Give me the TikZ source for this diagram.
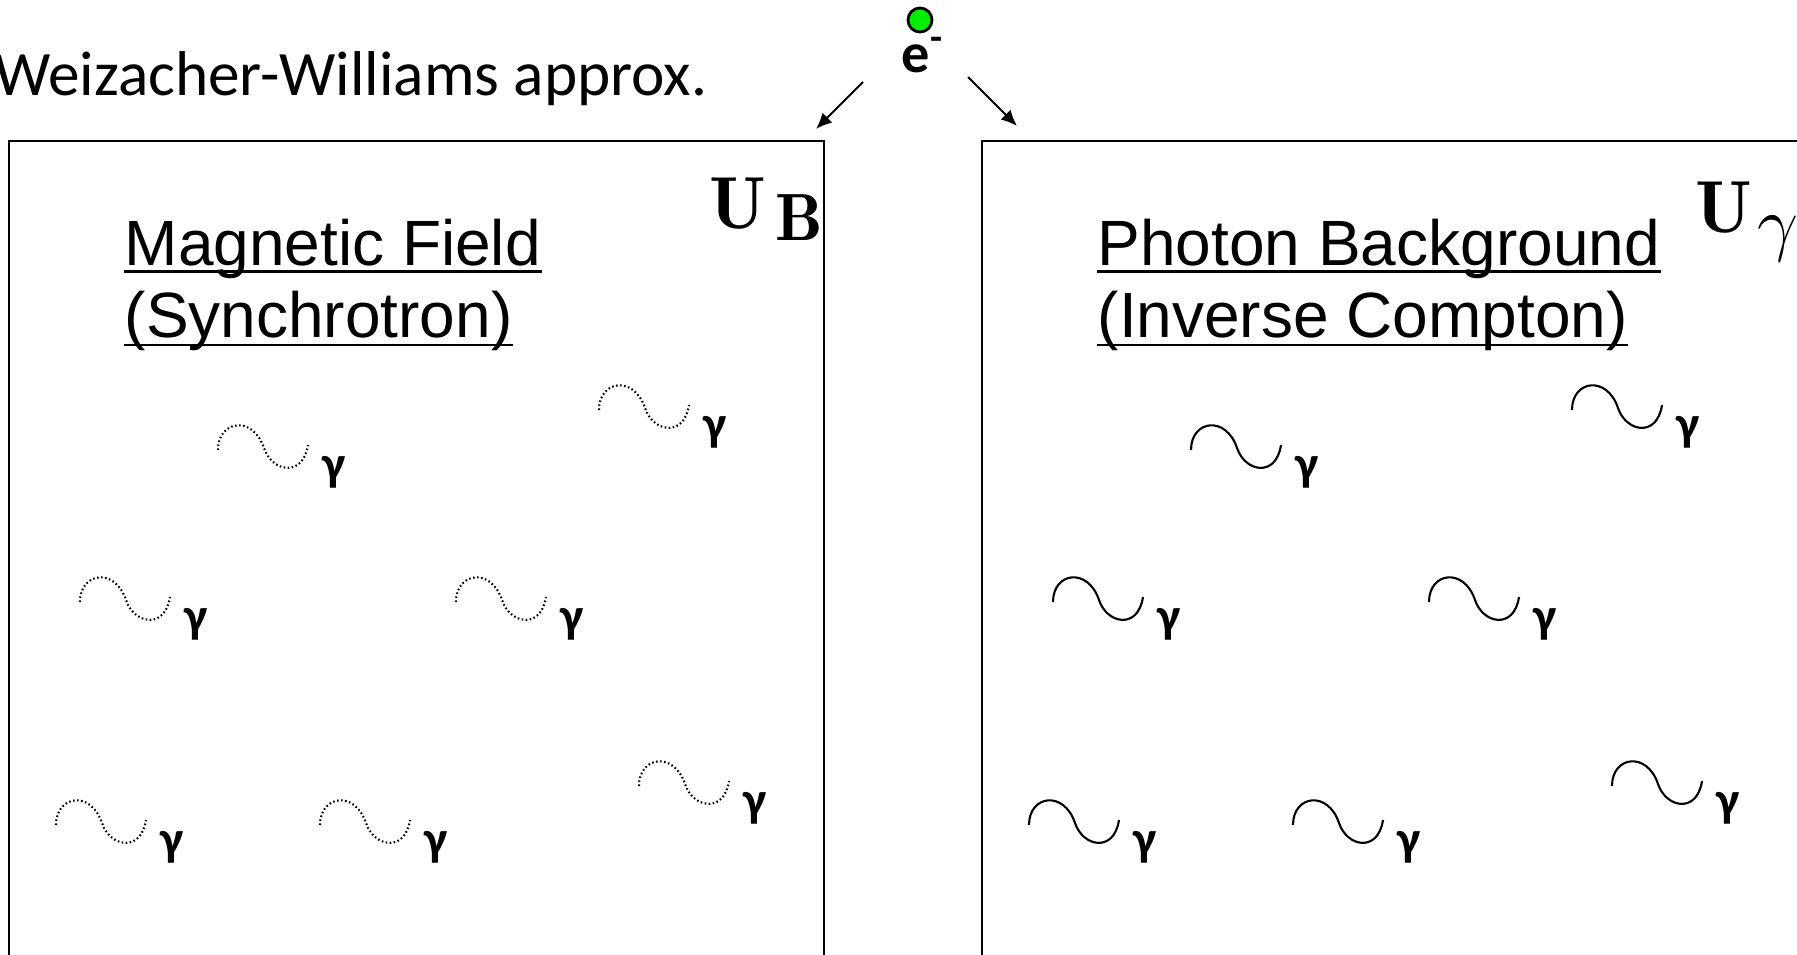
\documentclass[tikz,border=0pt]{standalone}
\usepackage{fontspec}
\newfontfamily\calfont{Carlito}
\newfontfamily\arialfont{Liberation Sans}
\usetikzlibrary{arrows.meta}

\definecolor{egreen}{RGB}{0,240,0}

\tikzset{
    box/.style={line width=0.5pt},
    title/.style={font=\arialfont\fontsize{18.2}{18.2}\selectfont, inner sep=0pt, anchor=base west},
    uline/.style={line width=0.7pt},
    gam/.style={font=\calfont\bfseries\fontsize{14}{14}\selectfont, inner sep=0pt},
    wig/.style={line width=0.6pt},
    wigdot/.style={line width=0.6pt, dash pattern=on 0.45pt off 0.7pt},
    arr/.style={-{Latex[length=1.6mm,width=1.4mm]}, line width=0.55pt},
    pics/photon/.style={code={
        \draw[#1] (0,0) .. controls (0,-30) and (35,-35) .. (46,-2)
                        .. controls (54,22) and (85,28) .. (90,-5);
        \node[gam] (-g) at (116,22) {γ};
    }}
}

\begin{document}
\begin{tikzpicture}[x=0.01cm, y=-0.01cm]
    % Page frame
    \useasboundingbox (0,0) rectangle (1797,955);
    \clip (0,0) rectangle (1797,955);

    % Define the corners of the two boxes
    \coordinate (L1) at (9,970);
    \coordinate (L2) at (9,141);
    \coordinate (L3) at (824,141);
    \coordinate (L4) at (824,970);
    \coordinate (R1) at (982,970);
    \coordinate (R2) at (982,141);
    \coordinate (R3) at (1820,141);

    % Draw the boxes (open at the bottom of the page)
    \draw[box] (L1) -- (L2) -- (L3) -- (L4);
    \draw[box] (R1) -- (R2) -- (R3);

    % The electron and its arrows
    \node (elec) at (920,20) [circle, draw, fill=egreen, line width=0.8pt, minimum size=2.4mm, inner sep=0pt] {};
    \node (elab) at (923,55) [font=\calfont\bfseries\fontsize{16}{16}\selectfont, inner sep=0pt] {e\textsuperscript{-}};
    \coordinate (aL) at (863,82);
    \coordinate (aLt) at (816,129);
    \coordinate (aR) at (968,77);
    \coordinate (aRt) at (1017,126);
    \draw[arr] (aL) -- (aLt);
    \draw[arr] (aR) -- (aRt);

    % Heading
    \node (wwa) at (708,96) [anchor=base east, inner sep=0pt, font=\calfont\fontsize{18}{18}\selectfont] {Weizacher-Williams approx.};

    % Box titles
    \node (magf) at (124,266) [title] {Magnetic Field};
    \node (sync) at (124,338) [title] {(Synchrotron)};
    \node (phot) at (1097,266) [title] {Photon Background};
    \node (invc) at (1097,338) [title] {(Inverse Compton)};
    \draw[uline] ([yshift=-1.6pt]magf.base west) -- ([yshift=-1.6pt]magf.base east);
    \draw[uline] ([yshift=-2pt]sync.base west) -- ([yshift=-2pt]sync.base east);
    \draw[uline] ([yshift=-1.6pt]phot.base west) -- ([yshift=-1.6pt]phot.base east);
    \draw[uline] ([yshift=-2pt]invc.base west) -- ([yshift=-2pt]invc.base east);

    % Energy densities
    \node (UB) at (709,229) [anchor=base west, inner sep=0pt, font=\fontsize{21}{21}\selectfont]
        {$\mathbf{U}$\hspace{0.9mm}\raisebox{-1.1mm}{\fontsize{19}{19}\selectfont$\mathbf{B}$}};
    \node (Ug) at (1695,233) [anchor=base west, inner sep=0pt, font=\fontsize{21}{21}\selectfont]
        {$\mathbf{U}$\hspace{0.5mm}\raisebox{-1.4mm}{\fontsize{20}{20}\selectfont$\gamma$}};

    % Photons in the magnetic field (dotted)
    \pic (pL1) at (218,450) {photon=wigdot};
    \pic (pL2) at (599,410) {photon=wigdot};
    \pic (pL3) at (80,602) {photon=wigdot};
    \pic (pL4) at (456,602) {photon=wigdot};
    \pic (pL5) at (56,825) {photon=wigdot};
    \pic (pL6) at (320,825) {photon=wigdot};
    \pic (pL7) at (639,786) {photon=wigdot};

    % Photons in the photon background (solid)
    \pic (pR1) at (1191,450) {photon=wig};
    \pic (pR2) at (1572,410) {photon=wig};
    \pic (pR3) at (1053,602) {photon=wig};
    \pic (pR4) at (1429,602) {photon=wig};
    \pic (pR5) at (1029,825) {photon=wig};
    \pic (pR6) at (1293,825) {photon=wig};
    \pic (pR7) at (1612,786) {photon=wig};
\end{tikzpicture}
\end{document}
